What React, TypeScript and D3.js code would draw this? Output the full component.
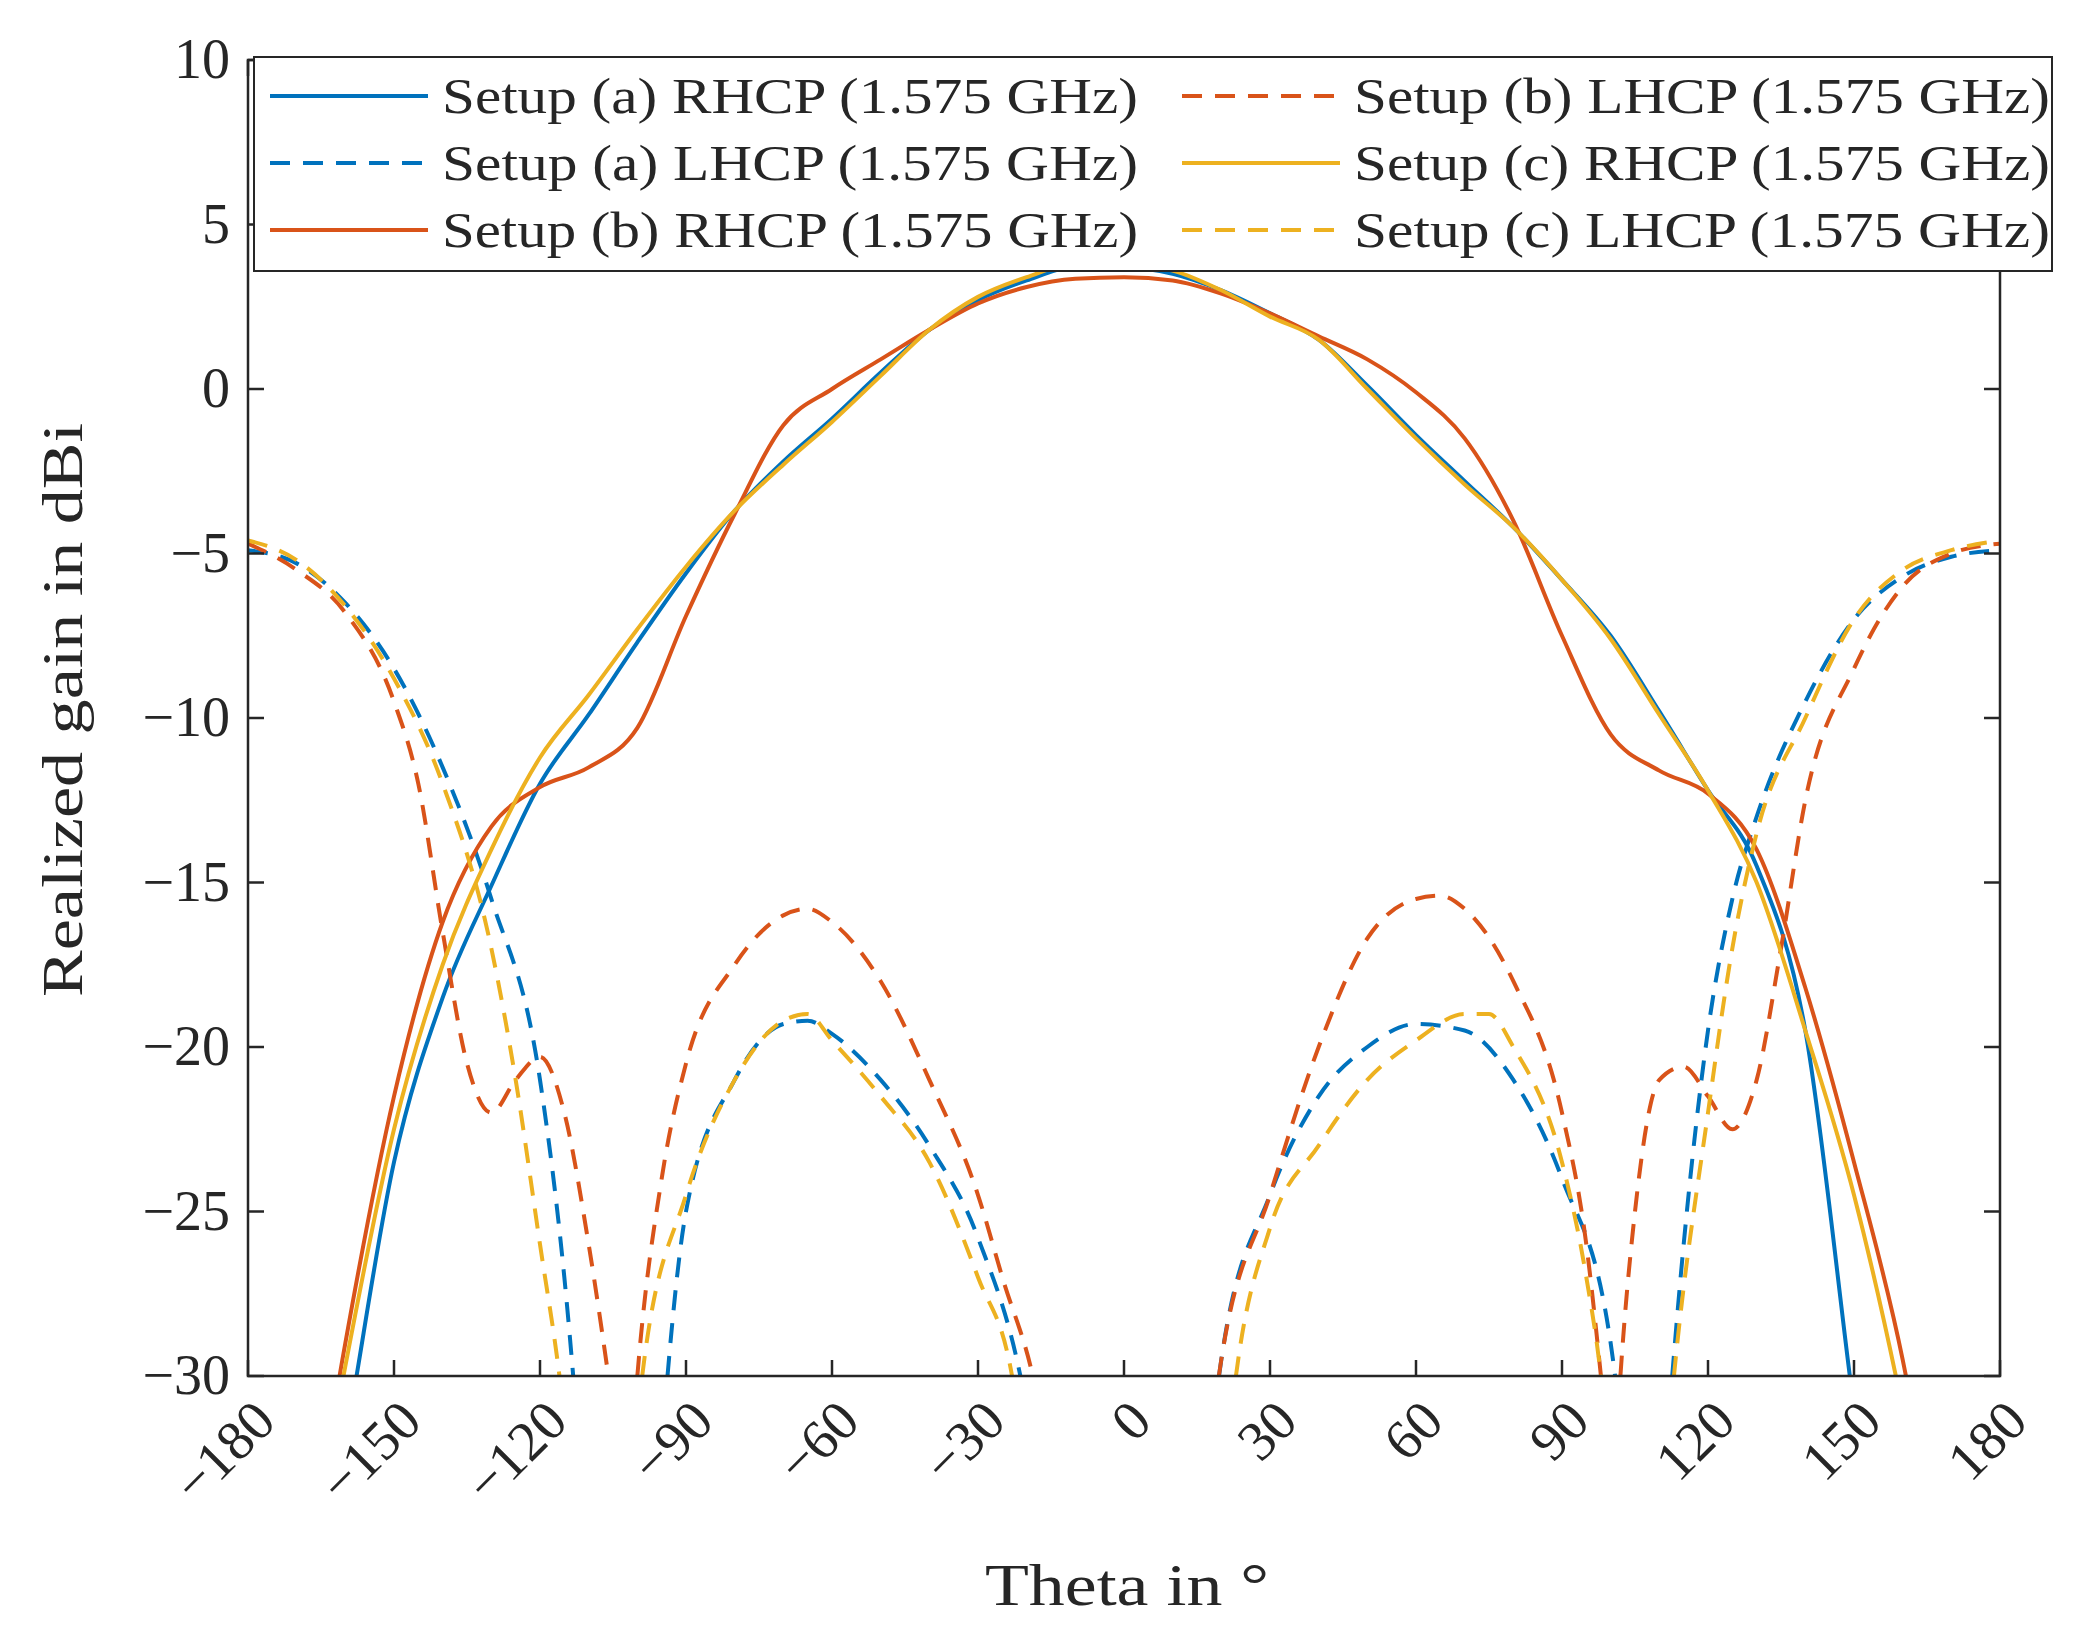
import React from 'react';
import * as d3 from 'd3';

type Pt = [number, number | null];

// [theta in deg, realized gain in dBi]; null breaks the line
const aRhcp: Pt[] = [[-170, -40], [-160, -32], [-150, -23.5], [-140, -18.5], [-130, -15.1], [-120, -12], [-110, -9.9], [-100, -7.7], [-90, -5.6], [-80, -3.7], [-70, -2.2], [-60, -0.9], [-50, 0.5], [-40, 1.8], [-30, 2.7], [-20, 3.3], [-10, 3.7], [0, 3.7], [10, 3.5], [20, 3.0], [30, 2.3], [40, 1.5], [50, 0.1], [60, -1.4], [70, -2.8], [80, -4.2], [90, -5.8], [100, -7.5], [110, -9.8], [120, -12.2], [130, -14.5], [140, -19.5], [150, -31], [160, -42]];
const bRhcp: Pt[] = [[-170, -38], [-160, -29], [-150, -21.5], [-140, -16.2], [-130, -13.3], [-120, -12.1], [-110, -11.5], [-100, -10.3], [-90, -6.9], [-80, -3.8], [-70, -1.1], [-60, 0.0], [-50, 0.9], [-40, 1.8], [-30, 2.6], [-20, 3.1], [-10, 3.35], [0, 3.4], [10, 3.3], [20, 2.9], [30, 2.3], [40, 1.6], [50, 0.9], [60, -0.1], [70, -1.5], [80, -4.0], [90, -7.5], [100, -10.5], [110, -11.6], [120, -12.3], [130, -14.0], [140, -18.2], [150, -23.5], [160, -29.5], [170, -38]];
const cRhcp: Pt[] = [[-170, -38], [-160, -29.7], [-150, -22.5], [-140, -17.5], [-130, -14], [-120, -11.2], [-110, -9.3], [-100, -7.3], [-90, -5.4], [-80, -3.7], [-70, -2.3], [-60, -1.0], [-50, 0.4], [-40, 1.8], [-30, 2.8], [-20, 3.4], [-10, 3.8], [0, 3.8], [10, 3.6], [20, 3.0], [30, 2.2], [40, 1.5], [50, 0.0], [60, -1.5], [70, -2.9], [80, -4.2], [90, -5.8], [100, -7.6], [110, -9.9], [120, -12.2], [130, -15], [140, -19.5], [150, -24.5], [160, -31], [170, -39]];
const aLhcp: Pt[] = [[-180, -4.9], [-170, -5.3], [-160, -6.5], [-150, -8.5], [-140, -11.5], [-130, -15.5], [-120, -21], [-115, -27], [-110, -36], [-105, null],
  [-97, -36], [-90, -25], [-80, -21], [-70, -19.3], [-65, -19.2], [-60, -19.6], [-50, -21], [-40, -23], [-30, -25.8], [-20, -31], [-15, -36], [0, null],
  [15, -36], [20, -29.5], [30, -24.5], [40, -21.5], [50, -20], [60, -19.3], [70, -19.5], [80, -21], [90, -24], [100, -29], [105, -36], [108, null],
  [110, -35], [115, -26], [120, -19.5], [125, -15.5], [130, -13], [140, -9.5], [150, -7], [160, -5.7], [170, -5.1], [180, -4.9]];
const bLhcp: Pt[] = [[-180, -4.7], [-170, -5.5], [-160, -6.8], [-150, -9.5], [-145, -12], [-140, -16.5], [-135, -20.5], [-130, -22], [-125, -21], [-120, -20.3], [-115, -22], [-110, -26], [-105, -31], [-102, null],
  [-102, -34], [-100, -30], [-95, -24], [-90, -20.5], [-80, -17.5], [-70, -16], [-65, -15.8], [-60, -16.2], [-50, -18], [-40, -21], [-30, -24.5], [-25, -27], [-18, -30.5], [-15, -33], [0, null],
  [16, -34], [20, -29.5], [30, -24.5], [40, -20], [50, -16.7], [60, -15.5], [65, -15.4], [70, -15.8], [80, -18], [90, -22], [95, -26], [98, -30], [100, -33], [101, null],
  [100, -35], [102, -30], [105, -25], [110, -21], [115, -20.6], [120, -21.5], [125, -22.5], [130, -21], [135, -17], [140, -12.5], [150, -8.5], [160, -6], [170, -5], [180, -4.7]];
const cLhcp: Pt[] = [[-180, -4.6], [-170, -5.2], [-160, -6.6], [-150, -8.8], [-140, -12], [-130, -17], [-125, -21], [-120, -26], [-116, -30], [-113, -34], [-105, null],
  [-101, -34], [-99, -30], [-90, -24.5], [-80, -21], [-70, -19.2], [-65, -19], [-60, -19.8], [-50, -21.5], [-40, -23.5], [-30, -27], [-23, -30], [-20, -33], [0, null],
  [20, -34], [23, -30], [30, -25.5], [40, -23], [50, -21], [60, -19.8], [70, -19], [75, -19], [80, -20], [90, -23.5], [95, -27], [98, -30], [100, -33], [105, null],
  [110, -35], [113, -30], [120, -22], [125, -17], [130, -13.5], [140, -10], [150, -7], [160, -5.5], [170, -4.9], [180, -4.6]];

const xTicks = [-180, -150, -120, -90, -60, -30, 0, 30, 60, 90, 120, 150, 180];
const yTicks = [10, 5, 0, -5, -10, -15, -20, -25, -30];

const BLUE = '#0072BD', RED = '#D95319', YEL = '#EDB120';
const series = [
  { name: 'Setup (a) RHCP (1.575 GHz)', data: aRhcp, color: BLUE, dash: false },
  { name: 'Setup (a) LHCP (1.575 GHz)', data: aLhcp, color: BLUE, dash: true },
  { name: 'Setup (b) RHCP (1.575 GHz)', data: bRhcp, color: RED, dash: false },
  { name: 'Setup (b) LHCP (1.575 GHz)', data: bLhcp, color: RED, dash: true },
  { name: 'Setup (c) RHCP (1.575 GHz)', data: cRhcp, color: YEL, dash: false },
  { name: 'Setup (c) LHCP (1.575 GHz)', data: cLhcp, color: YEL, dash: true },
];

const W = 2083, H = 1628;
const L = 248, R = 2000, T = 60, B = 1376;
const FONT = '"Liberation Serif", "DejaVu Serif", serif';

export default function App() {
  const x = d3.scaleLinear().domain([-180, 180]).range([L, R]);
  const y = d3.scaleLinear().domain([-30, 10]).range([B, T]);
  const line = d3.line<Pt>()
    .defined(d => d[1] !== null)
    .x(d => x(d[0]))
    .y(d => y(d[1] as number))
    .curve(d3.curveMonotoneX);

  // legend order: column-major, 3 rows
  const legendPos = (i: number) => ({ col: Math.floor(i / 3), row: i % 3 });

  return (
    <svg width={W} height={H} style={{ display: 'block', margin: -8, background: '#fff' }} fontFamily={FONT}>
      <defs>
        <clipPath id="plot"><rect x={L} y={T} width={R - L} height={B - T} /></clipPath>
      </defs>
      <g clipPath="url(#plot)">
        {series.map(s => (
          <path key={s.name} d={line(s.data) || ''} fill="none" stroke={s.color} strokeWidth={4}
            strokeDasharray={s.dash ? '20 13' : undefined} />
        ))}
      </g>
      <rect x={L} y={T} width={R - L} height={B - T} fill="none" stroke="#262626" strokeWidth={2.5} />
      {xTicks.map(t => (
        <g key={t}>
          <line x1={x(t)} x2={x(t)} y1={B} y2={B - 16} stroke="#262626" strokeWidth={2.5} />
          <line x1={x(t)} x2={x(t)} y1={T} y2={T + 16} stroke="#262626" strokeWidth={2.5} />
          <text transform={`translate(${x(t) + 30},${B + 48}) rotate(-45)`} textAnchor="end" fontSize={56} fill="#262626">
            {t < 0 ? `\u2212${-t}` : t}
          </text>
        </g>
      ))}
      {yTicks.map(t => (
        <g key={t}>
          <line x1={L} x2={L + 16} y1={y(t)} y2={y(t)} stroke="#262626" strokeWidth={2.5} />
          <line x1={R} x2={R - 16} y1={y(t)} y2={y(t)} stroke="#262626" strokeWidth={2.5} />
          <text x={L - 18} y={y(t) + 18} textAnchor="end" fontSize={56} fill="#262626">
            {t < 0 ? `\u2212${-t}` : t}
          </text>
        </g>
      ))}
      <text transform={`translate(82,${(T + B) / 2 - 8}) rotate(-90)`} textAnchor="middle" fontSize={58} fill="#262626"
        textLength={574} lengthAdjust="spacingAndGlyphs">
        Realized gain in dBi
      </text>
      <text x={1127} y={1605} textAnchor="middle" fontSize={60} fill="#262626"
        textLength={284} lengthAdjust="spacingAndGlyphs">Theta in °</text>
      <rect x={254} y={57} width={1798} height={214} fill="#fff" stroke="#262626" strokeWidth={2} />
      {series.map((s, i) => {
        const { col, row } = legendPos(i);
        const lx = col === 0 ? 270 : 1182;
        const ly = 96 + row * 67;
        return (
          <g key={s.name}>
            <line x1={lx} x2={lx + 158} y1={ly} y2={ly} stroke={s.color} strokeWidth={4}
              strokeDasharray={s.dash ? '20 13' : undefined} />
            <text x={lx + 172} y={ly + 17} fontSize={50} fill="#262626"
              textLength={696} lengthAdjust="spacingAndGlyphs">{s.name}</text>
          </g>
        );
      })}
    </svg>
  );
}
